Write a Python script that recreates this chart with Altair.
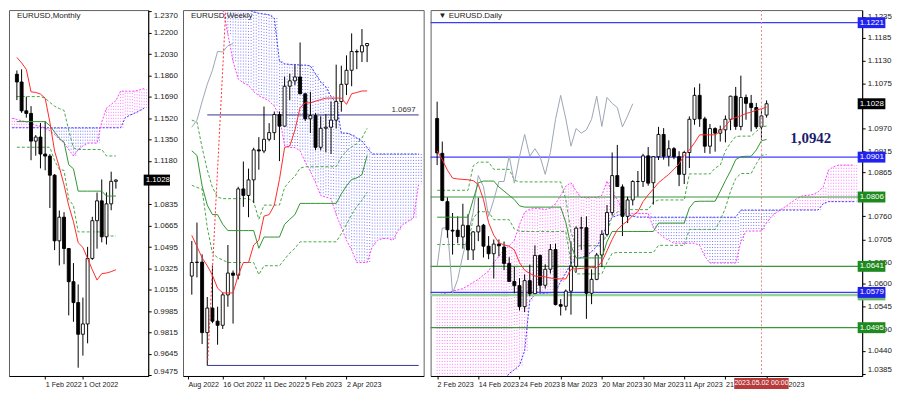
import altair as alt
import numpy as np
import pandas as pd

FONT = "Liberation Sans"
XFS = 7.2
H = 368
W_M, W_W, W_D = 140, 242, 434

# ---------------- Monthly EURUSD (Aug 2021 .. May 2023) ----------------
m_open = [1.1870, 1.1808, 1.1579, 1.1558, 1.1338, 1.1370, 1.1235, 1.1219, 1.1067, 1.0545, 1.0733,
          1.0484, 1.0220, 1.0054, 0.9802, 0.9884, 1.0405, 1.0705, 1.0863, 1.0577, 1.0839, 1.1018]
m_high = [1.1900, 1.1909, 1.1692, 1.1616, 1.1386, 1.1482, 1.1495, 1.1235, 1.1076, 1.0786, 1.0773,
          1.0487, 1.0368, 1.0198, 1.0094, 1.0497, 1.0736, 1.0929, 1.1033, 1.0930, 1.1095, 1.1035]
m_low = [1.1664, 1.1563, 1.1524, 1.1186, 1.1222, 1.1121, 1.1106, 1.0806, 1.0471, 1.0349, 1.0359,
         0.9952, 0.9901, 0.9536, 0.9632, 0.9730, 1.0393, 1.0483, 1.0533, 1.0516, 1.0788, 1.0960]
m_close = [1.1808, 1.1579, 1.1558, 1.1338, 1.1370, 1.1235, 1.1219, 1.1067, 1.0545, 1.0733, 1.0484,
           1.0220, 1.0054, 0.9802, 0.9884, 1.0405, 1.0705, 1.0863, 1.0577, 1.0839, 1.1018, 1.1028]
m_tenkan = [1.2003, 1.1960, 1.1908, 1.1730, 1.1725, 1.1712, 1.1679, 1.1488, 1.1258, 1.1131, 1.0990,
            1.0825, 1.0697, 1.0530, 1.0493, 1.0404, 1.0315, 1.0233, 1.0284, 1.0289, 1.0300, 1.0315]
m_kijun = [1.1493, 1.1493, 1.1493, 1.1493, 1.1493, 1.1493, 1.1493, 1.1460, 1.1410, 1.1360, 1.1330,
           1.1150, 1.1118, 1.0940, 1.0940, 1.0940, 1.0940, 1.0940, 1.0940, 1.0901, 1.0901, 1.0901]
m_dash_up = [1.1692, 1.1692, 1.1692, 1.1692, 1.1692, 1.1692, 1.1679, 1.1646, 1.1615, 1.1597, 1.1582,
             1.1424, 1.1284, 1.1271, 1.1271, 1.1271, 1.1271, 1.1271, 1.1271, 1.1220, 1.1220, 1.1220]
m_dash_lo = [1.1289, 1.1289, 1.1289, 1.1289, 1.1289, 1.1289, 1.1289, 1.1289, 1.1182, 1.1113, 1.1105,
             1.0876, 1.0825, 1.0616, 1.0616, 1.0616, 1.0616, 1.0616, 1.0616, 1.0595, 1.0583, 1.0583]
m_cloud_idx = list(range(-1, 28))
m_span_b = [1.1520, 1.1510, 1.1500, 1.1490, 1.1480, 1.1465, 1.1455, 1.1440, 1.1420, 1.1390,
            1.1350, 1.1325, 1.1270, 1.1220, 1.1270, 1.1300, 1.1322, 1.1322, 1.1322, 1.1490,
            1.1600, 1.1630, 1.1660, 1.1735, 1.1735, 1.1735, 1.1735, 1.1745, 1.1756]
m_span_a = [1.1444] * 24 + [1.1525, 1.1545, 1.1560, 1.1580, 1.1600]
m_tick_idx = [6, 14]
m_tick_txt = ["1 Feb 2022", "1 Oct 2022"]
m_price_ticks = [1.2370, 1.2200, 1.2030, 1.1860, 1.1690, 1.1520, 1.1350, 1.1180, 1.0835, 1.0665,
                 1.0495, 1.0325, 1.0155, 0.9985, 0.9815, 0.9645, 0.9475]

# ---------------- Weekly EURUSD (4 Sep 2022 .. 30 Apr 2023) ----------------
w_open = [0.9950, 1.0013, 1.0015, 0.9688, 0.9802, 0.9741, 0.9722, 0.9863, 0.9964, 0.9954, 1.0354, 1.0324,
          1.0396, 1.0535, 1.0530, 1.0584, 1.0615, 1.0699, 1.0645, 1.0830, 1.0855, 1.0873, 1.0795, 1.0679,
          1.0694, 1.0547, 1.0635, 1.0640, 1.0673, 1.0759, 1.0839, 1.0904, 1.0991, 1.0989, 1.1018]
w_high = [1.0113, 1.0198, 1.0051, 0.9853, 0.9999, 0.9808, 0.9875, 1.0094, 0.9976, 1.0364, 1.0481, 1.0448,
          1.0545, 1.0594, 1.0736, 1.0659, 1.0713, 1.0713, 1.0874, 1.0888, 1.0929, 1.1033, 1.0796, 1.0804,
          1.0706, 1.0691, 1.0700, 1.0760, 1.0930, 1.0925, 1.0973, 1.1075, 1.1000, 1.1095, 1.1030]
w_low = [0.9864, 0.9944, 0.9635, 0.9536, 0.9732, 0.9632, 0.9705, 0.9808, 0.9730, 0.9935, 1.0271, 1.0223,
         1.0290, 1.0443, 1.0520, 1.0575, 1.0581, 1.0483, 1.0644, 1.0766, 1.0835, 1.0793, 1.0669, 1.0613,
         1.0533, 1.0533, 1.0524, 1.0516, 1.0634, 1.0712, 1.0789, 1.0830, 1.0909, 1.0942, 1.0942]
w_close = [1.0013, 1.0015, 0.9688, 0.9802, 0.9741, 0.9722, 0.9863, 0.9964, 0.9954, 1.0354, 1.0324, 1.0396,
           1.0535, 1.0530, 1.0584, 1.0615, 1.0699, 1.0645, 1.0830, 1.0855, 1.0873, 1.0795, 1.0679, 1.0694,
           1.0547, 1.0635, 1.0640, 1.0673, 1.0759, 1.0839, 1.0904, 1.0991, 1.0989, 1.1018, 1.1028]
w_tenkan = [1.0139, 1.0087, 1.0035, 0.9998, 0.9954, 0.9894, 0.9872, 0.9872, 0.9872, 0.9954,
            1.0013, 1.0013, 1.0094, 1.0116, 1.0228, 1.0235, 1.0279, 1.0398, 1.0546, 1.0553,
            1.0627, 1.0731, 1.0753, 1.0753, 1.0761, 1.0768, 1.0775, 1.0775, 1.0775, 1.0775,
            1.0746, 1.0795, 1.0801, 1.0808, 1.0808]
w_kijun = [1.0531, 1.0509, 1.0368, 1.0279, 1.0235, 1.0235, 1.0190, 1.0161, 1.0161, 1.0161,
           1.0161, 1.0161, 1.0161, 1.0079, 1.0131, 1.0131, 1.0131, 1.0131, 1.0190, 1.0213,
           1.0235, 1.0287, 1.0287, 1.0287, 1.0287, 1.0287, 1.0287, 1.0287, 1.0287, 1.0331,
           1.0368, 1.0398, 1.0405, 1.0420, 1.0509]
w_dash_up = [1.0673, 1.0664, 1.0546, 1.0442, 1.0361, 1.0316, 1.0309, 1.0309, 1.0309, 1.0309,
             1.0309, 1.0309, 1.0294, 1.0213, 1.0279, 1.0279, 1.0279, 1.0279, 1.0361, 1.0390,
             1.0413, 1.0450, 1.0457, 1.0457, 1.0457, 1.0457, 1.0457, 1.0457, 1.0457, 1.0502,
             1.0531, 1.0549, 1.0564, 1.0590, 1.0635]
w_dash_lo = [1.0371, 1.0361, 1.0353, 1.0176, 1.0057, 1.0035, 1.0025, 1.0013, 1.0013, 1.0013,
             1.0013, 1.0013, 1.0013, 0.9957, 0.9998, 0.9998, 0.9998, 0.9998, 1.0028, 1.0057,
             1.0079, 1.0109, 1.0109, 1.0109, 1.0109, 1.0109, 1.0109, 1.0109, 1.0109, 1.0146,
             1.0190, 1.0235, 1.0272, 1.0302, 1.0339]
w_cloud_idx = list(range(6, 45))
w_span_b = [1.1198, 1.1070, 1.0946, 1.0864, 1.0845, 1.0835, 1.0805, 1.0786, 1.0775, 1.0761,
            1.0738, 1.0694, 1.0553, 1.0546, 1.0546, 1.0531, 1.0479, 1.0435, 1.0383, 1.0324,
            1.0316, 1.0309, 1.0235, 1.0176, 1.0116, 1.0072, 1.0013, 1.0013, 1.0013, 1.0087,
            1.0116, 1.0124, 1.0124, 1.0116, 1.0161, 1.0190, 1.0205, 1.0220, 1.0376]
w_span_a = [1.1272, 1.1242, 1.1227, 1.1212, 1.1198, 1.1183, 1.1175, 1.1168, 1.1165, 1.1161,
            1.1146, 1.0946, 1.0934, 1.0931, 1.0931, 1.0928, 1.0928, 1.0924, 1.0887, 1.0850,
            1.0827, 1.0783, 1.0753, 1.0613, 1.0613, 1.0605, 1.0590, 1.0576, 1.0546] + [1.0516] * 10
w_level_val = [1.0697, 0.9536]
w_level_start = [3, 3]
w_trend_idx = [3.1, 6.6]
w_trend_val = [0.9560, 1.1190]
w_tick_idx = [-0.74, 6, 14, 22, 30]
w_tick_txt = ["Aug 2022", "16 Oct 2022", "11 Dec 2022", "5 Feb 2023", "2 Apr 2023"]

# ---------------- Daily EURUSD (2 Feb 2023 .. 3 May 2023) ----------------
d_open = [1.0993, 1.0910, 1.0795, 1.0727, 1.0727, 1.0711, 1.0738, 1.0680, 1.0723, 1.0739,
          1.0689, 1.0671, 1.0694, 1.0687, 1.0648, 1.0605, 1.0595, 1.0545, 1.0607, 1.0576,
          1.0667, 1.0596, 1.0634, 1.0681, 1.0550, 1.0546, 1.0582, 1.0641, 1.0732, 1.0733,
          1.0577, 1.0610, 1.0668, 1.0717, 1.0769, 1.0857, 1.0830, 1.0760, 1.0799, 1.0843,
          1.0843, 1.0904, 1.0840, 1.0902, 1.0955, 1.0903, 1.0921, 1.0902, 1.0860, 1.0912,
          1.0991, 1.1048, 1.0992, 1.0927, 1.0969, 1.0958, 1.0966, 1.0991, 1.1046, 1.0974,
          1.1043, 1.1029, 1.1019, 1.0973, 1.1001]
d_high = [1.1033, 1.0938, 1.0805, 1.0768, 1.0760, 1.0790, 1.0765, 1.0725, 1.0804, 1.0742,
          1.0713, 1.0705, 1.0705, 1.0700, 1.0663, 1.0640, 1.0613, 1.0622, 1.0645, 1.0691,
          1.0669, 1.0646, 1.0694, 1.0695, 1.0563, 1.0586, 1.0700, 1.0736, 1.0759, 1.0760,
          1.0634, 1.0673, 1.0727, 1.0787, 1.0912, 1.0930, 1.0836, 1.0807, 1.0846, 1.0868,
          1.0909, 1.0925, 1.0903, 1.0973, 1.0970, 1.0941, 1.0925, 1.0915, 1.0916, 1.0998,
          1.1067, 1.1076, 1.0997, 1.0980, 1.0972, 1.0976, 1.1000, 1.1047, 1.1068, 1.1095,
          1.1050, 1.1049, 1.1030, 1.1015, 1.1036]
d_low = [1.0882, 1.0796, 1.0709, 1.0669, 1.0696, 1.0683, 1.0656, 1.0656, 1.0701, 1.0662,
         1.0658, 1.0612, 1.0665, 1.0632, 1.0613, 1.0577, 1.0536, 1.0532, 1.0570, 1.0576,
         1.0580, 1.0588, 1.0624, 1.0548, 1.0524, 1.0536, 1.0526, 1.0626, 1.0680, 1.0516,
         1.0551, 1.0608, 1.0639, 1.0712, 1.0762, 1.0830, 1.0713, 1.0744, 1.0786, 1.0807,
         1.0830, 1.0833, 1.0788, 1.0894, 1.0895, 1.0879, 1.0896, 1.0832, 1.0837, 1.0875,
         1.0978, 1.0973, 1.0911, 1.0909, 1.0914, 1.0938, 1.0936, 1.0965, 1.0966, 1.0965,
         1.0990, 1.0962, 1.0968, 1.0942, 1.0995]
d_close = [1.0911, 1.0798, 1.0728, 1.0725, 1.0712, 1.0739, 1.0680, 1.0723, 1.0737, 1.0689,
           1.0671, 1.0694, 1.0690, 1.0648, 1.0605, 1.0595, 1.0545, 1.0607, 1.0576, 1.0667,
           1.0596, 1.0634, 1.0681, 1.0550, 1.0546, 1.0582, 1.0641, 1.0732, 1.0733, 1.0577,
           1.0610, 1.0668, 1.0717, 1.0769, 1.0857, 1.0831, 1.0760, 1.0799, 1.0843, 1.0843,
           1.0904, 1.0839, 1.0902, 1.0955, 1.0903, 1.0921, 1.0902, 1.0860, 1.0912, 1.0991,
           1.1048, 1.0992, 1.0927, 1.0969, 1.0958, 1.0966, 1.0991, 1.1046, 1.0974, 1.1043,
           1.1029, 1.1019, 1.0973, 1.0999, 1.1028]
d_tenkan = [1.0916, 1.0895, 1.0870, 1.0851, 1.0849, 1.0848, 1.0847, 1.0845, 1.0836, 1.0800,
            1.0745, 1.0715, 1.0697, 1.0692, 1.0689, 1.0680, 1.0650, 1.0632, 1.0624, 1.0618,
            1.0617, 1.0616, 1.0613, 1.0612, 1.0611, 1.0611, 1.0634, 1.0635, 1.0636, 1.0637,
            1.0638, 1.0638, 1.0652, 1.0678, 1.0705, 1.0728, 1.0740, 1.0749, 1.0762, 1.0771,
            1.0795, 1.0811, 1.0825, 1.0840, 1.0850, 1.0860, 1.0872, 1.0885, 1.0905, 1.0918,
            1.0935, 1.0954, 1.0954, 1.0954, 1.0954, 1.0962, 1.0975, 1.0990, 1.0995, 1.0999,
            1.1005, 1.1008, 1.1013, 1.1016, 1.1020]
d_kijun = ([1.0758] * 7 + [1.0800, 1.0840] + [1.0844] * 3 + [1.0830, 1.0820, 1.0810, 1.0800, 1.0785]
           + [1.0782] * 8 + [1.0745, 1.0690] + [1.0661] * 6 + [1.0700] + [1.0724] * 9 + [1.0744] * 6
           + [1.0780, 1.0795] + [1.0796] * 4 + [1.0820, 1.0845, 1.0868, 1.0895, 1.0902]
           + [1.0903] * 2 + [1.0918, 1.0940, 1.0943])
d_dash_up = ([1.0822] * 7 + [1.0880] + [1.0889] * 3 + [1.0872] * 4 + [1.0846] + [1.0842] * 9
             + [1.0800, 1.0722] + [1.0690] * 6 + [1.0720, 1.0760, 1.0770] + [1.0776] * 6 + [1.0794]
             + [1.0799] * 6 + [1.0861] * 5 + [1.0875, 1.0882, 1.0916, 1.0935, 1.0950] + [1.0951] * 3
             + [1.0962, 1.0973, 1.0975])
d_dash_lo = ([1.0693] * 7 + [1.0755] + [1.0771] * 3 + [1.0752] * 4 + [1.0730] + [1.0724] * 10
             + [1.0650] + [1.0623] * 6 + [1.0650, 1.0672] + [1.0674] * 8 + [1.0691] * 6 + [1.0729] * 6
             + [1.0750, 1.0780, 1.0820, 1.0850] + [1.0862] * 3 + [1.0885, 1.0905, 1.0907])
d_cloud_idx = list(range(0, 82))
d_span_b = [1.0573, 1.0575, 1.0578, 1.0582, 1.0585, 1.0588, 1.0595, 1.0603, 1.0610, 1.0620,
            1.0630, 1.0650, 1.0665, 1.0680, 1.0690, 1.0703, 1.0740, 1.0770, 1.0777, 1.0779,
            1.0779, 1.0776, 1.0780, 1.0790, 1.0810, 1.0832, 1.0840, 1.0820, 1.0805, 1.0805,
            1.0805, 1.0805, 1.0810, 1.0844, 1.0817, 1.0800, 1.0775, 1.0767, 1.0767, 1.0767,
            1.0767, 1.0767, 1.0733, 1.0720, 1.0710, 1.0703, 1.0696, 1.0696, 1.0696, 1.0696,
            1.0696, 1.0691, 1.0665, 1.0649, 1.0649, 1.0649, 1.0649, 1.0649, 1.0649, 1.0700,
            1.0725, 1.0725, 1.0725, 1.0725, 1.0745, 1.0760, 1.0770, 1.0778, 1.0786, 1.0795,
            1.0803, 1.0809, 1.0810, 1.0812, 1.0818, 1.0830, 1.0870, 1.0878, 1.0882, 1.0882,
            1.0882, 1.0882]
d_span_a = ([1.0300] * 13 + [1.0370, 1.0386, 1.0395, 1.0405, 1.0440, 1.0560, 1.0573,
            1.0576, 1.0577, 1.0578, 1.0580, 1.0605, 1.0625, 1.0649, 1.0658, 1.0662, 1.0666,
            1.0676, 1.0688, 1.0710, 1.0740, 1.0758, 1.0762, 1.0767, 1.0764, 1.0760, 1.0758]
            + [1.0758] * 19 + [1.0775] * 16 + [1.0790] + [1.0795] * 6)
d_level_val = [1.1221, 1.0901, 1.0806, 1.0641, 1.0573, 1.0579, 1.0495]
d_level_kind = ["blue", "blue", "green", "green", "light", "blue", "green"]
d_current = 1.1028
d_cross_idx = 63
d_cross_txt = "2023.05.02 00:00"
d_note_txt = ["1,0942"]
d_note_idx = [68.6]
d_note_val = [1.0947]
d_tick_idx = [0, 8, 16, 24, 32, 40, 48, 56, 64]
d_tick_txt = ["2 Feb 2023", "14 Feb 2023", "24 Feb 2023", "8 Mar 2023", "20 Mar 2023",
              "30 Mar 2023", "11 Apr 2023", "21 Apr 2023", "3 May 2023"]
d_price_ticks = [1.1235, 1.1185, 1.1130, 1.1075, 1.0970, 1.0915, 1.0865, 1.0760, 1.0705, 1.0650,
                 1.0600, 1.0545, 1.0490, 1.0440, 1.0385]

M_X, M_Y = [-0.62, 26.8], [0.9470, 1.2380]
W_X, W_Y = [-0.74, 44.0], [0.9487, 1.1183]
D_X, D_Y = [-0.3, 81.6], [1.0380, 1.1251]

KIND_COLOR = {"blue": "#3c3cff", "green": "#3a963a", "light": "#98d498"}
BOX_COLOR = {"blue": "#2222ee", "green": "#1d8a1d", "light": "#6cbc6c", "black": "#000000"}


def sc(dom):
    return alt.Scale(domain=dom, nice=False, zero=False)


def make_xaxis(vals, labels):
    expr = "''"
    for v, t in reversed(list(zip(vals, labels))):
        expr = f"datum.value == {v} ? '{t}' : ({expr})"
    return alt.Axis(values=vals, labelExpr=expr, labelAlign="left", labelFlush=False,
                    labelOverlap=False, tickSize=3, grid=False, title=None, labelFont=FONT,
                    labelFontSize=XFS, labelColor="#1a1a1a", domainColor="#000", tickColor="#000",
                    labelPadding=2)


def make_yaxis(vals):
    if vals is None:
        return None
    return alt.Axis(orient="right", values=vals, format=".4f", labelFlush=6, labelOverlap=False,
                    tickSize=3, grid=False, title=None, labelFont=FONT, labelFontSize=8,
                    labelColor="#1a1a1a", domainColor="#000", tickColor="#000", labelPadding=2)


def panel(title, xdom, ydom, xa, ya, width, o, h, l, c, tk, kj, du, dl,
          cidx, sa, sb, levels=None, level_x=None, boxes=None, extra=None, chikou=True):
    X = lambda f="i": alt.X(f"{f}:Q", scale=sc(xdom), axis=xa)
    Y = lambda f: alt.Y(f"{f}:Q", scale=sc(ydom), axis=ya)
    px_per_price = H / (ydom[1] - ydom[0])
    px_per_idx = width / (xdom[1] - xdom[0])
    layers = []

    # cloud hatch (two dotted verticals per bar)
    cl = pd.DataFrame({"i": cidx, "a": sa, "b": sb})
    hh = pd.concat([cl, cl.assign(i=cl["i"] + 0.5)])
    hh["col"] = np.where(hh["b"] > hh["a"], "#ff3cff", "#3c3cff")
    layers.append(alt.Chart(hh).mark_rule(strokeDash=[1, 2], strokeWidth=0.8, opacity=0.85,
                                          clip=True).encode(
        x=X(), y=Y("a"), y2="b", color=alt.Color("col:N", scale=None)))
    layers.append(alt.Chart(cl).mark_line(strokeDash=[2, 1.5], strokeWidth=1, clip=True,
                                          color="#3c3cff").encode(x=X(), y=Y("a")))
    layers.append(alt.Chart(cl).mark_line(strokeDash=[2, 1.5], strokeWidth=1, clip=True,
                                          color="#ff3cff").encode(x=X(), y=Y("b")))

    # horizontal levels
    if levels is not None:
        lv = levels.copy()
        if level_x is None:
            layers.append(alt.Chart(lv).mark_rule().encode(
                y=Y("v"), color=alt.Color("col:N", scale=None),
                strokeWidth=alt.StrokeWidth("w:Q", scale=None)))
        else:
            layers.append(alt.Chart(lv).mark_rule(clip=True).encode(
                x=X("x1"), x2="x2", y=Y("v"), color=alt.Color("col:N", scale=None),
                strokeWidth=alt.StrokeWidth("w:Q", scale=None)))

    n = len(c)
    idx = list(range(n))
    ln = pd.DataFrame({"i": idx, "t": tk, "k": kj, "u": du, "d": dl})
    for f in ["u", "d"]:
        layers.append(alt.Chart(ln).mark_line(strokeDash=[3, 2], strokeWidth=1, clip=True,
                                              color="#46a846").encode(x=X(), y=Y(f)))
    if chikou and n > 26:
        ch = pd.DataFrame({"i": idx[: n - 26], "p": c[26:]})
        layers.append(alt.Chart(ch).mark_line(strokeWidth=1, clip=True, color="#9ba6b2").encode(
            x=X(), y=Y("p")))

    # candles
    cd = pd.DataFrame({"i": idx, "o": o, "h": h, "l": l, "c": c})
    layers.append(alt.Chart(cd).mark_rule(color="#000", strokeWidth=1).encode(
        x=X(), y=Y("l"), y2="h"))
    layers.append(alt.Chart(cd).mark_bar(size=3, stroke="#000", strokeWidth=0.9,
                                         orient="vertical").encode(
        x=X(), y=Y("o"), y2="c",
        fill=alt.condition("datum.c >= datum.o", alt.value("white"), alt.value("black"))))

    # kijun / tenkan
    layers.append(alt.Chart(ln).mark_line(strokeWidth=1, clip=True, color="#2f952f").encode(
        x=X(), y=Y("k")))
    layers.append(alt.Chart(ln).mark_line(strokeWidth=1, clip=True, color="#ff2a2a").encode(
        x=X(), y=Y("t")))

    if extra:
        layers.extend(extra(X, Y, px_per_price, px_per_idx))

    # price boxes on the axis (each box with its own text, in order)
    if boxes is not None:
        half = 5.5 / px_per_price
        for _, row in boxes.iterrows():
            bx = pd.DataFrame({"v": [row["v"]], "fill": [row["fill"]]})
            bx["y1"] = bx["v"] + half
            bx["y2"] = bx["v"] - half
            bx["x1"] = xdom[1] + 0.5 / px_per_idx
            bx["x2"] = xdom[1] + 29.0 / px_per_idx
            bx["txt"] = [f"{v:.4f}" for v in bx["v"]]
            layers.append(alt.Chart(bx).mark_rect().encode(
                x=X("x1"), x2="x2", y=Y("y1"), y2="y2", color=alt.Color("fill:N", scale=None)))
            layers.append(alt.Chart(bx).mark_text(align="left", baseline="middle", color="white",
                                                  font=FONT, fontSize=8, dx=2).encode(
                x=X("x1"), y=Y("v"), text="txt:N"))

    # title text
    tt = pd.DataFrame({"x": [xdom[0]], "y": [ydom[1]], "t": [title]})
    layers.append(alt.Chart(tt).mark_text(align="left", baseline="middle", font=FONT, fontSize=8,
                                          color="#222", dx=3, dy=6).encode(
        x=X("x"), y=Y("y"), text="t:N"))

    return alt.layer(*layers).properties(width=width, height=H)


# ---------------- Monthly panel ----------------
m_boxes = pd.DataFrame({"v": [m_close[-1]], "fill": [BOX_COLOR["black"]]})
monthly = panel("EURUSD,Monthly", M_X, M_Y, make_xaxis(m_tick_idx, m_tick_txt),
                make_yaxis(m_price_ticks), W_M, m_open, m_high, m_low, m_close,
                m_tenkan, m_kijun, m_dash_up, m_dash_lo, m_cloud_idx, m_span_a, m_span_b,
                boxes=m_boxes, chikou=False)

# ---------------- Weekly panel ----------------
w_lv = pd.DataFrame({"v": w_level_val, "x1": w_level_start})
w_lv["x2"] = W_X[1]
w_lv["col"] = "#35358a"
w_lv["w"] = 1


def weekly_extra(X, Y, ppp, ppi):
    tr = pd.DataFrame({"i": w_trend_idx, "p": w_trend_val})
    lab = pd.DataFrame({"x": [W_X[1]], "v": [w_level_val[0]], "t": [f"{w_level_val[0]:.4f}"]})
    return [
        alt.Chart(tr).mark_line(strokeDash=[2, 2], strokeWidth=1, color="#ff3030", clip=True).encode(
            x=X(), y=Y("p")),
        alt.Chart(lab).mark_text(align="right", baseline="bottom", font=FONT, fontSize=8,
                                 color="#333", dx=-3, dy=-1).encode(x=X("x"), y=Y("v"), text="t:N"),
    ]


weekly = panel("EURUSD,Weekly", W_X, W_Y, make_xaxis(w_tick_idx, w_tick_txt), None, W_W,
               w_open, w_high, w_low, w_close, w_tenkan, w_kijun, w_dash_up, w_dash_lo,
               w_cloud_idx, w_span_a, w_span_b, levels=w_lv, level_x=True, extra=weekly_extra)

# ---------------- Daily panel ----------------
d_lv = pd.DataFrame({"v": d_level_val, "kind": d_level_kind})
d_lv["col"] = d_lv["kind"].map(KIND_COLOR)
d_lv["w"] = np.where(d_lv["kind"] == "light", 2.5, 1.2)
d_boxes = pd.DataFrame({"v": d_level_val + [d_current],
                        "fill": [BOX_COLOR[k] for k in d_level_kind] + [BOX_COLOR["black"]]})


def daily_extra(X, Y, ppp, ppi):
    cr = pd.DataFrame({"i": [d_cross_idx]})
    half_w = 28.0 / ppi
    tb = pd.DataFrame({"x1": [d_cross_idx - half_w], "x2": [d_cross_idx + half_w],
                       "y1": [D_Y[0] - 2.0 / ppp], "y2": [D_Y[0] - 13.0 / ppp],
                       "xm": [d_cross_idx], "ym": [D_Y[0] - 7.5 / ppp], "t": [d_cross_txt]})
    note = pd.DataFrame({"i": d_note_idx, "p": d_note_val, "t": d_note_txt})
    return [
        alt.Chart(cr).mark_rule(color="#e08a8a", strokeDash=[2, 2], strokeWidth=1).encode(x=X()),
        alt.Chart(note).mark_text(align="left", baseline="middle", font="Liberation Serif",
                                  fontSize=15, fontWeight="bold", color="#1c1c6e").encode(
            x=X(), y=Y("p"), text="t:N"),
        alt.Chart(tb).mark_rect(color="#b83a3a").encode(x=X("x1"), x2="x2", y=Y("y1"), y2="y2"),
        alt.Chart(tb).mark_text(align="center", baseline="middle", font=FONT, fontSize=7,
                                color="white").encode(x=X("xm"), y=Y("ym"), text="t:N"),
    ]


daily = panel("\u25BC EURUSD.Daily", D_X, D_Y, make_xaxis(d_tick_idx, d_tick_txt),
              make_yaxis(d_price_ticks), W_D, d_open, d_high, d_low, d_close,
              d_tenkan, d_kijun, d_dash_up, d_dash_lo, d_cloud_idx, d_span_a, d_span_b,
              levels=d_lv, boxes=d_boxes, extra=daily_extra)

chart = (alt.hconcat(monthly, weekly, daily, spacing=4)
         .properties(padding=0, background="white")
         .configure_view(stroke="#606060", strokeWidth=1))

chart.save("out.html", embed_options={"renderer": "svg", "actions": False})
